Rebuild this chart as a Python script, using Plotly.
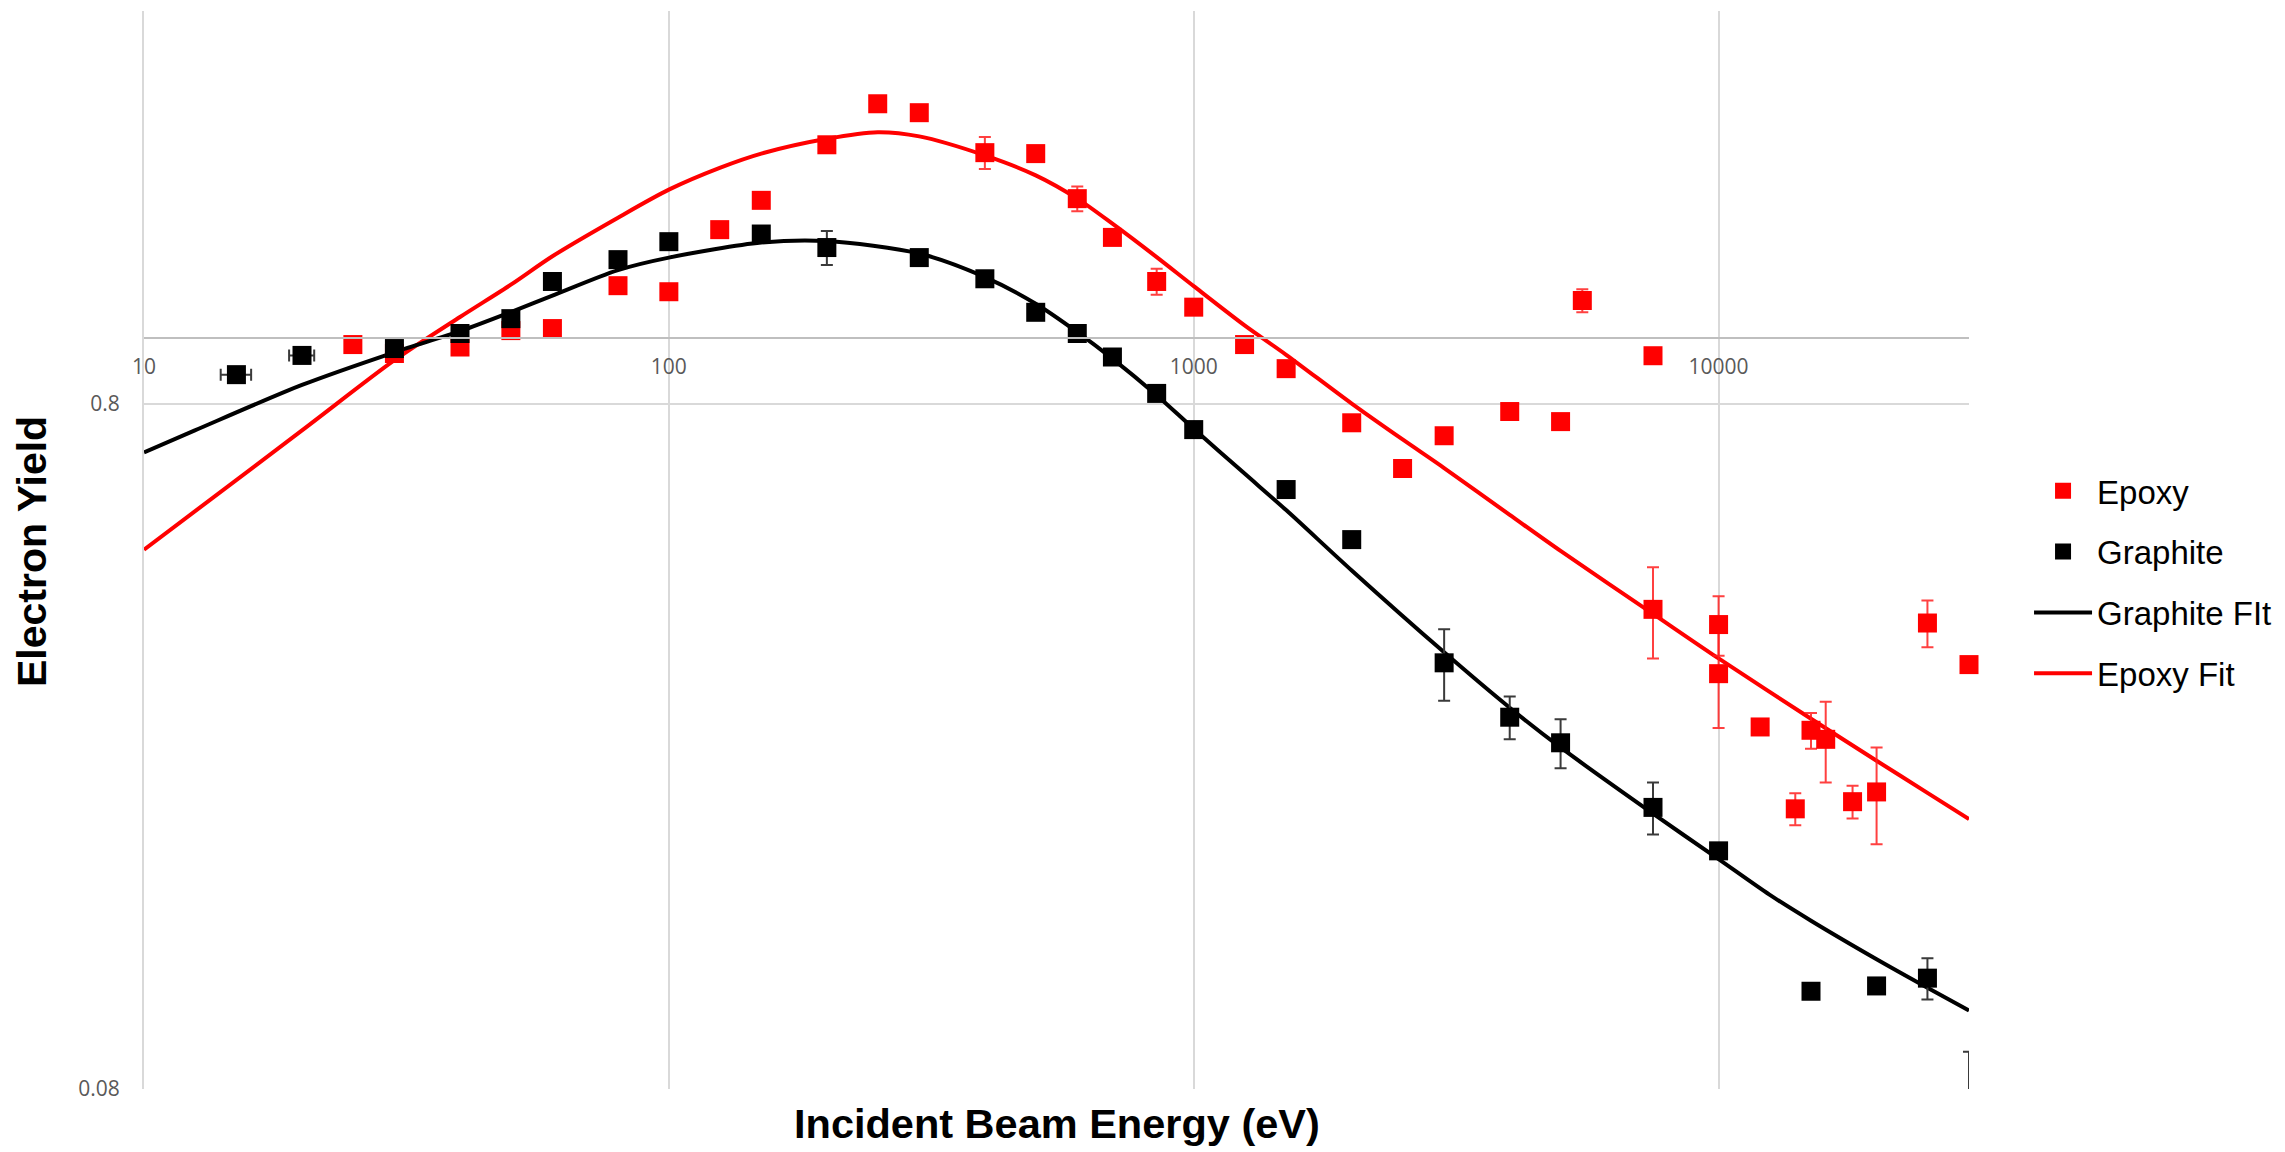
import math
import plotly.graph_objects as go

# ---- Data ----
graphite_E = [15, 20, 30, 40, 50, 60, 80, 100, 150, 200, 300, 400, 500, 600, 700, 850, 1000,
              1500, 2000, 3000, 4000, 5000, 7500, 10000, 15000, 20000, 25000, 30000]
graphite_Y = [0.883, 0.942, 0.964, 1.014, 1.066, 1.208, 1.300, 1.381, 1.417, 1.354, 1.309, 1.219,
              1.089, 1.014, 0.937, 0.829, 0.734, 0.600, 0.507, 0.335, 0.279, 0.256, 0.206, 0.178,
              0.111, 0.113, 0.116, 0.072]
graphite_err = [0, 0, 0, 0, 0, 0, 0, 0, 0, 0.077, 0, 0, 0, 0, 0, 0, 0, 0, 0, 0.040, 0.020, 0.021,
                0.018, 0, 0, 0.003, 0.008, 0.0186]
graphite_xerr = [1.0, 1.1, 0, 0, 0, 0, 0, 0, 0, 0, 0, 0, 0, 0, 0, 0, 0, 0, 0, 0, 0, 0, 0, 0, 0,
                 0, 0, 0]

epoxy_E = [25, 30, 40, 50, 60, 80, 100, 125, 150, 200, 250, 300, 400, 500, 600, 700, 850, 1000,
           1250, 1500, 2000, 2500, 3000, 4000, 5000, 5500, 7500, 7500, 10000, 10000, 12000, 14000,
           15000, 16000, 18000, 20000, 25000, 30000]
epoxy_Y = [0.977, 0.948, 0.969, 1.024, 1.031, 1.191, 1.167, 1.438, 1.587, 1.913, 2.196, 2.131,
           1.863, 1.857, 1.596, 1.401, 1.208, 1.108, 0.977, 0.901, 0.751, 0.644, 0.719, 0.780,
           0.754, 1.133, 0.941, 0.401, 0.381, 0.323, 0.270, 0.205, 0.267, 0.259, 0.210, 0.217,
           0.383, 0.333]
epoxy_err = [0, 0, 0, 0, 0, 0, 0, 0, 0, 0, 0, 0, 0.10, 0, 0.066, 0, 0.053, 0, 0, 0, 0, 0, 0, 0,
             0, 0.044, 0, 0.061, 0.038, 0.054, 0.004, 0.011, 0.016, 0.035, 0.0115, 0.035, 0.030, 0]

graphite_fit_E = [10, 12.5, 20, 30, 40, 50, 60, 80, 100, 150, 200, 300, 400, 500, 600, 700, 850,
                  1000, 1250, 1500, 2000, 3000, 4000, 5000, 7500, 10000, 12500, 15000, 20000,
                  25000, 30000]
graphite_fit_Y = [0.680, 0.732, 0.853, 0.952, 1.022, 1.090, 1.152, 1.255, 1.309, 1.377, 1.384,
                  1.327, 1.226, 1.121, 1.019, 0.932, 0.824, 0.736, 0.633, 0.560, 0.457, 0.347,
                  0.288, 0.252, 0.2017, 0.1731, 0.1536, 0.1407, 0.1236, 0.1123, 0.104]

epoxy_fit_E = [10, 20, 30, 40, 50, 60, 80, 100, 125, 150, 200, 250, 300, 400, 500, 600, 700, 850,
               1000, 1250, 1500, 2000, 2500, 3000, 4000, 5000, 7500, 10000, 15000, 20000, 25000,
               30000]
epoxy_fit_Y = [0.490, 0.732, 0.927, 1.072, 1.195, 1.315, 1.497, 1.645, 1.770, 1.857, 1.952,
               1.996, 1.968, 1.846, 1.726, 1.596, 1.467, 1.311, 1.189, 1.042, 0.944, 0.801,
               0.710, 0.645, 0.551, 0.488, 0.395, 0.340, 0.2776, 0.241, 0.2163, 0.198]

x_ticks = [10, 100, 1000, 10000]
x_ticktext = ["10", "100", "1000", "10000"]
y_ticks = [0.08, 0.8]
y_ticktext = ["0.08", "0.8"]

X_MIN, X_MAX = 10, 30000
Y_MIN, Y_MAX = 0.0799, 3.0

RED = "#FF0000"
BLACK = "#000000"
GRID = "#D9D9D9"

fig = go.Figure()

fig.add_trace(go.Scatter(
    x=epoxy_fit_E, y=epoxy_fit_Y, mode="lines", name="Epoxy Fit",
    line=dict(color=RED, width=4, shape="spline", smoothing=0.8),
    legendgroup="d", legendrank=4,
))
fig.add_trace(go.Scatter(
    x=graphite_fit_E, y=graphite_fit_Y, mode="lines", name="Graphite FIt",
    line=dict(color=BLACK, width=4, shape="spline", smoothing=0.8),
    legendgroup="c", legendrank=3,
))
fig.add_trace(go.Scatter(
    x=epoxy_E, y=epoxy_Y, mode="markers", name="Epoxy",
    marker=dict(symbol="square", size=19, color=RED),
    error_y=dict(type="data", array=epoxy_err, color="rgba(255,30,30,0.85)",
                 thickness=2, width=6),
    legendgroup="a", legendrank=1, cliponaxis=False,
))
fig.add_trace(go.Scatter(
    x=graphite_E, y=graphite_Y, mode="markers", name="Graphite",
    marker=dict(symbol="square", size=19, color=BLACK),
    error_y=dict(type="data", array=graphite_err, color="#3A3A3A", thickness=2, width=6),
    error_x=dict(type="data", array=graphite_xerr, color="#3A3A3A", thickness=2, width=6),
    legendgroup="b", legendrank=2,
))

y_lo, y_hi = math.log10(Y_MIN), math.log10(Y_MAX)
x_axis_pos = (0 - y_lo) / (y_hi - y_lo)  # x axis crosses at Y = 1

# page body has an 8px margin; figure is sized so the page fills the window
fig.update_layout(
    width=2277, height=1144,
    margin=dict(l=136, r=316, t=3, b=63),
    paper_bgcolor="white", plot_bgcolor="white",
    showlegend=True,
    legend=dict(
        x=1.0329, xanchor="left", y=0.581, yanchor="top",
        font=dict(family="Liberation Sans, Arial, sans-serif", size=33, color="black"),
        traceorder="grouped", tracegroupgap=15, itemwidth=58,
        bgcolor="rgba(0,0,0,0)",
    ),
    xaxis=dict(
        type="log", range=[math.log10(X_MIN), math.log10(X_MAX)],
        tickvals=x_ticks, ticktext=x_ticktext,
        showgrid=True, gridcolor=GRID, gridwidth=2,
        showline=True, linecolor="#BFBFBF", linewidth=2,
        anchor="free", position=x_axis_pos,
        ticks="", ticklabelstandoff=10,
        tickfont=dict(family="Open Sans, sans-serif", size=21, color="#595959"),
        zeroline=False,
    ),
    yaxis=dict(
        type="log", range=[y_lo, y_hi],
        tickvals=y_ticks, ticktext=y_ticktext,
        showgrid=True, gridcolor=GRID, gridwidth=2,
        showline=True, linecolor=GRID, linewidth=2,
        ticks="", ticklabelstandoff=18,
        tickfont=dict(family="Open Sans, sans-serif", size=21, color="#595959"),
        zeroline=False,
    ),
    annotations=[
        dict(text="Incident Beam Energy (eV)", xref="paper", yref="paper",
             x=0.5, y=-0.032, xanchor="center", yanchor="middle", showarrow=False,
             font=dict(family="Liberation Sans, Arial, sans-serif", size=41.5, color="black",
                       weight="bold")),
        dict(text="Electron Yield", xref="paper", yref="paper", textangle=-90,
             x=-0.0614, y=0.499, xanchor="center", yanchor="middle", showarrow=False,
             font=dict(family="Liberation Sans, Arial, sans-serif", size=41, color="black",
                       weight="bold")),
    ],
)

fig.write_html("out.html")
